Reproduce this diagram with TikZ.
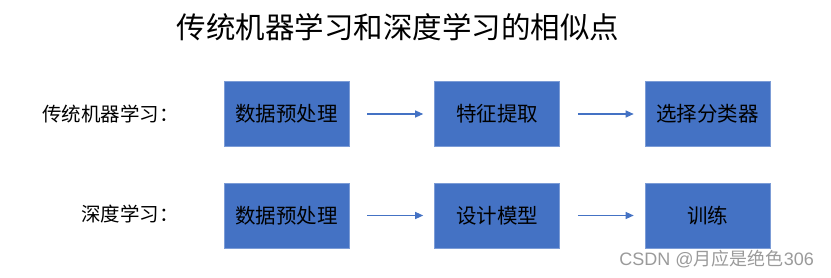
\documentclass[tikz,border=0pt]{standalone}
\usepackage{fontspec}
\setmainfont{Noto Sans CJK SC}
\newfontfamily\wmlatin{Liberation Sans}
\usetikzlibrary{arrows.meta}
\definecolor{boxblue}{HTML}{4472C4}
\definecolor{wm}{HTML}{9A9A9A}
\tikzset{
  stepbox/.style={fill=boxblue,draw=boxblue!70!white,line width=0.6pt,minimum width=125pt,minimum height=65pt,inner sep=0pt,font=\fontsize{20.5}{24}\selectfont,text=black},
  flow/.style={draw=boxblue,line width=1.1pt,-{Triangle[length=8pt,width=7pt]}},
  rowlabel/.style={anchor=east,inner sep=0pt,font=\fontsize{19.5}{24}\selectfont}
}
\begin{document}
\begin{tikzpicture}[x=1pt,y=-1pt]
\useasboundingbox (0,0) rectangle (831,278);
\node[font=\fontsize{29.5}{36}\selectfont,inner sep=0pt] (title) at (398,27) {传统机器学习和深度学习的相似点};
\node[rowlabel] (l1) at (179,114) {传统机器学习：};
\node[rowlabel] (l2) at (179,214) {深度学习：};
\node[stepbox] (a1) at (286.5,114) {数据预处理};
\node[stepbox] (a2) at (497,114) {特征提取};
\node[stepbox] (a3) at (707.5,114) {选择分类器};
\node[stepbox] (b1) at (286.5,215.5) {数据预处理};
\node[stepbox] (b2) at (497,215.5) {设计模型};
\node[stepbox] (b3) at (707.5,215.5) {训练};
\draw[flow] ([xshift=18pt]a1.east) -- ([xshift=-11pt]a2.west);
\draw[flow] ([xshift=18pt]a2.east) -- ([xshift=-11pt]a3.west);
\draw[flow] ([xshift=18pt]b1.east) -- ([xshift=-11pt]b2.west);
\draw[flow] ([xshift=18pt]b2.east) -- ([xshift=-11pt]b3.west);
\node[anchor=east,inner sep=0pt,text=wm,font=\fontsize{18}{20}\selectfont] (wmk) at (814,259) {{\wmlatin CSDN @}月应是绝色{\wmlatin 306}};
\end{tikzpicture}
\end{document}
